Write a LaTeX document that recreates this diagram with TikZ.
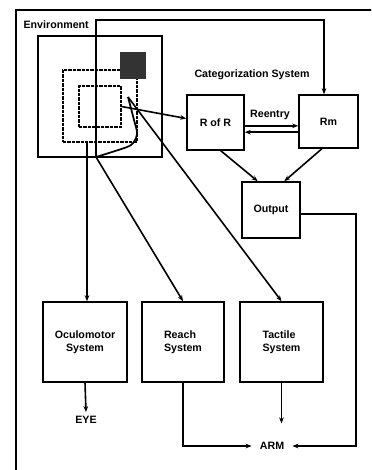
\documentclass[tikz,border=0pt]{standalone}
\usepackage{fontspec}
\setmainfont{Liberation Sans}
\usetikzlibrary{positioning,arrows.meta,calc}

\begin{document}
\begin{tikzpicture}[
    x=0.75pt, y=-0.75pt,
    sysBox/.style={rectangle, draw=black, line width=1.2pt, fill=white, inner sep=0pt, font=\fontsize{8}{10}\selectfont\bfseries, align=center},
    envBox/.style={rectangle, draw=black, line width=1.4pt, inner sep=0pt},
    envDash/.style={rectangle, draw=black, line width=0.8pt, dash pattern=on 2.5pt off 0.8pt, inner sep=0pt},
    lbl/.style={font=\fontsize{8}{10}\selectfont\bfseries, inner sep=1pt},
    flow/.style={-{Stealth[length=4.5pt,width=3.5pt]}, line width=1.2pt}
]
    \path[use as bounding box, clip] (0,0) rectangle (371,470);
    \draw[line width=0.9pt] (16,10) rectangle (390,490);

    % environment
    \node[lbl, anchor=west] (envLabel) at (22,25) {Environment};
    \node[envBox, minimum width=93pt, minimum height=90.75pt] (env) at (100,96.5) {};
    \node[envDash, minimum width=55.5pt, minimum height=54pt] (midSq) at (100,106) {};
    \node[envDash, minimum width=31.5pt, minimum height=30.75pt] (innerSq) at (100,106.5) {};
    \node[rectangle, fill=black!80, inner sep=0pt, minimum width=19.5pt, minimum height=20.25pt] (darkSq) at (133,65.5) {};

    \coordinate (conv) at (96,157);
    \coordinate (tip) at (128,97);
    \coordinate (ocuTap) at (87,142);
    \coordinate (topRight) at (324,20);

    % categorization system
    \node[lbl] (catLabel) at (252,75) {Categorization System};
    \node[sysBox, minimum width=42.75pt, minimum height=41.25pt] (rofr) at (215.5,122.5) {R of R};
    \node[sysBox, minimum width=44.25pt, minimum height=39.75pt] (rm) at (328.5,121.5) {Rm};
    \node[sysBox, minimum width=43.5pt, minimum height=42pt] (output) at (271,210) {Output};
    \node[lbl] (reentry) at (270,115) {Reentry};

    % motor systems
    \node[sysBox, minimum width=63pt, minimum height=60pt] (oculo) at (85,342) {Oculomotor\\System};
    \node[sysBox, minimum width=61.5pt, minimum height=60pt, align=left] (reach) at (183,342) {Reach\\System};
    \node[sysBox, minimum width=62pt, minimum height=60pt, align=left] (tactile) at (281.5,342) {Tactile\\System};
    \node[lbl, inner sep=3pt] (eye) at (86,420) {EYE};
    \node[lbl, inner sep=6pt] (arm) at (272,446) {ARM};

    % hand
    \draw[line width=1.3pt] plot[smooth] coordinates {(conv) (112,152) (131,145) (137,134) (134,120) (tip)};

    \draw[flow] (conv) |- (topRight) -- (topRight |- rm.north);
    \draw[flow] (ocuTap) -- (ocuTap |- oculo.north);
    \draw[flow] (conv) -- (reach.north);
    \draw[flow] (tip) -- (tactile.north);
    \draw[flow] (innerSq.east) -- ([yshift=3pt]rofr.west);

    \draw[flow] ([yshift=-2.5pt]rofr.east) -- ([yshift=-2.5pt]rofr.east -| rm.west);
    \draw[flow] ([yshift=-8pt]rm.west) -- ([yshift=-8pt]rm.west -| rofr.east);
    \draw[flow] ([xshift=4pt]rofr.south) -- ([xshift=-10pt]output.north);
    \draw[flow] ([xshift=-5pt]rm.south) -- ([xshift=10pt]output.north);

    \draw[flow] (oculo.south) -- (eye.north);
    \draw[flow] (reach.south) |- (arm.west);
    \draw[flow, shorten >=8pt] (tactile.south) -- (tactile.south |- arm.north);
    \draw[flow] ([yshift=-3pt]output.east) -- ([yshift=-3pt]output.east -| 356,0) |- (arm.east);
\end{tikzpicture}
\end{document}
